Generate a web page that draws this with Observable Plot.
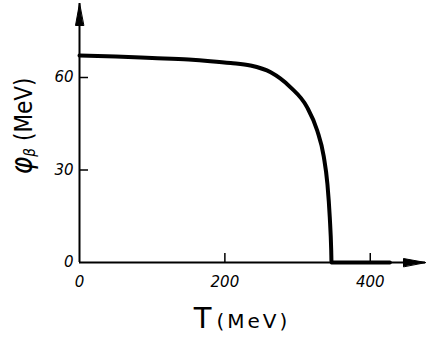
<!DOCTYPE html>
<html>
<head>
<meta charset="utf-8">
<script src="https://cdn.jsdelivr.net/npm/d3@7"></script>
<script src="https://cdn.jsdelivr.net/npm/@observablehq/plot@0.6"></script>
<style>
  html, body { margin: 0; padding: 0; background: #fff; }
  svg { display: block; }
</style>
</head>
<body>
<div id="chart"></div>
<script>
// Data
const T   = [0, 50, 100, 150, 180, 208, 235, 263, 290, 313, 327, 336, 341, 344.3, 346.3, 346.7, 360, 390, 427];
const phi = [67.1, 66.8, 66.3, 65.8, 65.3, 64.7, 63.9, 61.7, 56.9, 50.4, 42.8, 34.4, 25.6, 14.7, 3.9, 0, 0, 0, 0];
const xTicks = [0, 200, 400];
const yTicks = [0, 30, 60];
const xMax = 476, yMax = 84;

const curve = T.map((t, i) => ({T: t, phi: phi[i]}));
const arrows = [{x: 0, y: yMax, r: 0}, {x: xMax, y: 0, r: 90}];

const head = {
  draw(ctx, l) {
    ctx.moveTo(0, -l);
    ctx.lineTo(-4, 0);
    ctx.lineTo(4, 0);
    ctx.closePath();
  }
};

const font = {fontFamily: "DejaVu Sans", fontSize: 15, fontStyle: "italic"};

const chart = Plot.plot({
  width: 427,
  height: 339,
  marginLeft: 79,
  marginRight: 2,
  marginTop: 3,
  marginBottom: 77,
  x: {domain: [0, xMax]},
  y: {domain: [0, yMax]},
  marks: [
    Plot.ruleX([0], {stroke: "black", strokeWidth: 2}),
    Plot.ruleY([0], {stroke: "black", strokeWidth: 2}),
    Plot.axisX(xTicks.filter(d => d > 0), {tickSize: -9, tickFormat: () => "", strokeWidth: 1.5, label: null}),
    Plot.axisY(yTicks.filter(d => d > 0), {tickSize: -9, tickFormat: () => "", strokeWidth: 1.5, label: null}),
    Plot.axisX(xTicks, {tickSize: 0, tickPadding: 14, label: null, ...font}),
    Plot.axisY(yTicks, {tickSize: 0, tickPadding: 6, label: null, ...font}),
    Plot.line(curve, {x: "T", y: "phi", stroke: "black", strokeWidth: 4, curve: "monotone-x"}),
    Plot.vector(arrows, {x: "x", y: "y", rotate: "r", length: 22, anchor: "end", shape: head, fill: "black", stroke: "black", strokeWidth: 1})
  ]
});

const svg = d3.select(chart);
// Y axis title: φ_β (MeV)
const yt = svg.append("text")
  .attr("transform", "translate(32,126) rotate(-90)")
  .attr("text-anchor", "middle")
  .attr("font-family", "DejaVu Sans Condensed, DejaVu Sans")
  .attr("fill", "black");
yt.append("tspan").attr("font-size", 30).attr("font-style", "italic").text("φ");
yt.append("tspan").attr("font-size", 15).attr("font-style", "italic").attr("dy", 3).text("β");
yt.append("tspan").attr("font-size", 24).attr("dy", -3).attr("dx", 7).text("(MeV)");

// X axis title: T (MeV)
const xt = svg.append("text")
  .attr("x", 242).attr("y", 328)
  .attr("text-anchor", "middle")
  .attr("font-family", "DejaVu Sans")
  .attr("fill", "black");
xt.append("tspan").attr("font-size", 29).text("T");
xt.append("tspan").attr("font-size", 20).attr("dx", 5).attr("letter-spacing", 3).text("(MeV)");

document.getElementById("chart").appendChild(chart);
</script>
</body>
</html>
